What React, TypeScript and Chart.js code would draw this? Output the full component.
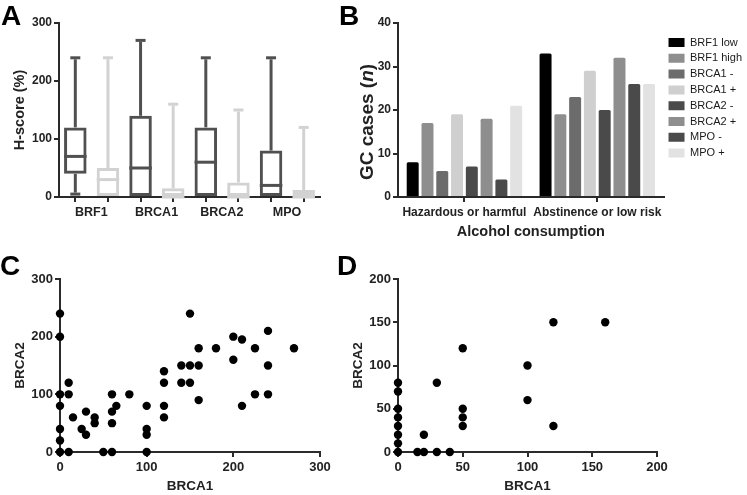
import React, { useEffect, useRef } from 'react';
import { Chart, registerables } from 'chart.js';

Chart.register(...registerables);

const FONT = '"Liberation Sans", Arial, Helvetica, sans-serif';
Chart.defaults.font.family = FONT;
Chart.defaults.color = '#222';

// ---------- Panel A: box plots ----------
const markers = ['BRF1', 'BRCA1', 'BRCA2', 'MPO'];
const boxLabels = ['BRF1', 'BRF1', 'BRCA1', 'BRCA1', 'BRCA2', 'BRCA2', 'MPO', 'MPO'];
const boxMin = [5, 0, 0, 0, 0, 0, 0, 0];
const boxQ1 = [40, 0, 0, 0, 0, 0, 0, 0];
const boxMedian = [70, 30, 50, 0, 60, 0, 20, 0];
const boxQ3 = [120, 50, 140, 15, 120, 25, 80, 12];
const boxMax = [240, 240, 270, 160, 240, 150, 240, 120];
const hScoreTicks = [0, 100, 200, 300];

// ---------- Panel B: grouped bars ----------
const alcoholCategories = ['Hazardous or harmful', 'Abstinence or low risk'];
const seriesNames = ['BRF1 low', 'BRF1 high', 'BRCA1 -', 'BRCA1 +', 'BRCA2 -', 'BRCA2 +', 'MPO -', 'MPO +'];
const brf1Low = [8, 33];
const brf1High = [17, 19];
const brca1Neg = [6, 23];
const brca1Pos = [19, 29];
const brca2Neg = [7, 20];
const brca2Pos = [18, 32];
const mpoNeg = [4, 26];
const mpoPos = [21, 26];
const seriesValues = [brf1Low, brf1High, brca1Neg, brca1Pos, brca2Neg, brca2Pos, mpoNeg, mpoPos];

// ---------- Panel C: scatter ----------
const cBrca1 = [0, 0, 0, 0, 0, 0, 0, 10, 10, 10, 15, 25, 30, 30, 40, 40, 50, 60, 60, 60, 60, 65, 80, 100, 100, 100, 100, 120, 120, 120, 120, 140, 140, 150, 150, 150, 160, 160, 160, 180, 200, 200, 210, 210, 225, 225, 240, 240, 240, 270];
const cBrca2 = [240, 200, 100, 80, 40, 20, 0, 120, 100, 0, 60, 40, 70, 30, 60, 50, 0, 100, 70, 50, 0, 80, 100, 80, 40, 30, 0, 140, 120, 80, 60, 150, 120, 240, 150, 120, 180, 150, 90, 180, 200, 160, 195, 80, 180, 100, 210, 150, 100, 180];

// ---------- Panel D: scatter ----------
const dBrca1 = [0, 0, 0, 0, 0, 0, 0, 0, 15, 20, 20, 30, 30, 40, 50, 50, 50, 50, 100, 100, 120, 120, 160];
const dBrca2 = [80, 70, 50, 40, 30, 20, 10, 0, 0, 20, 0, 80, 0, 0, 120, 50, 40, 30, 100, 60, 150, 30, 150];

// ---------- styles ----------
const DARK = '#505050';
const LIGHT = '#d2d2d2';
const boxColors = [DARK, LIGHT, DARK, LIGHT, DARK, LIGHT, DARK, LIGHT];
const seriesColors = ['#000000', '#8e8e8e', '#6c6c6c', '#cfcfcf', '#4a4a4a', '#8e8e8e', '#4a4a4a', '#e2e2e2'];
const AXIS = '#2a2a2a';

const axisGrid = { display: true, drawOnChartArea: false, drawTicks: true, tickLength: 5, lineWidth: 2, color: AXIS, offset: false };
const axisBorder = { display: true, width: 2, color: AXIS };

const boxPlugin = {
  id: 'boxWhiskers',
  afterDatasetsDraw(chart: any) {
    const { ctx } = chart;
    const x = chart.scales.x;
    const y = chart.scales.y;
    const meta = chart.getDatasetMeta(0);
    ctx.save();
    ctx.lineWidth = 3;
    ctx.lineCap = 'butt';
    const seg = (x1: number, y1: number, x2: number, y2: number) => {
      ctx.beginPath();
      ctx.moveTo(x1, y1);
      ctx.lineTo(x2, y2);
      ctx.stroke();
    };
    boxMedian.forEach((med, i) => {
      const bar = meta.data[i];
      const cx = x.getPixelForValue(i);
      const half = bar.width / 2;
      const cap = 5;
      ctx.strokeStyle = boxColors[i];
      const yQ3 = y.getPixelForValue(boxQ3[i]);
      const yMax = y.getPixelForValue(boxMax[i]);
      seg(cx, yQ3, cx, yMax + 1.5);
      seg(cx - cap, yMax, cx + cap, yMax);
      if (boxMin[i] < boxQ1[i]) {
        const yQ1 = y.getPixelForValue(boxQ1[i]);
        const yMin = y.getPixelForValue(boxMin[i]);
        seg(cx, yQ1, cx, yMin - 1.5);
        seg(cx - cap, yMin, cx + cap, yMin);
      }
      const yMed = y.getPixelForValue(med);
      seg(cx - half, yMed, cx + half, yMed);
    });
    ctx.restore();
  },
};

const gcTitlePlugin = {
  id: 'gcTitle',
  afterDraw(chart: any) {
    const { ctx } = chart;
    const parts = [
      { t: 'GC cases (', f: `bold 19px ${FONT}` },
      { t: 'n', f: `italic bold 19px ${FONT}` },
      { t: ')', f: `bold 19px ${FONT}` },
    ];
    let total = 0;
    parts.forEach((p) => {
      ctx.font = p.f;
      total += ctx.measureText(p.t).width;
    });
    ctx.save();
    ctx.translate(28, 122);
    ctx.rotate(-Math.PI / 2);
    ctx.fillStyle = '#222';
    ctx.textBaseline = 'middle';
    ctx.textAlign = 'left';
    let cur = -total / 2;
    parts.forEach((p) => {
      ctx.font = p.f;
      ctx.fillText(p.t, cur, 0);
      cur += ctx.measureText(p.t).width;
    });
    ctx.restore();
  },
};

const configA = () => ({
  type: 'bar',
  data: {
    labels: boxLabels,
    datasets: [
      {
        label: 'H-score',
        data: boxQ1.map((q, i) => [q, boxQ3[i]]),
        backgroundColor: 'rgba(255,255,255,0)',
        borderColor: boxColors,
        borderWidth: 3,
        borderSkipped: false,
        barPercentage: 0.69,
        categoryPercentage: 1,
      },
    ],
  },
  options: {
    responsive: false,
    animation: false,
    events: [],
    layout: { padding: { top: 23, right: 15, bottom: 0, left: 0 } },
    plugins: { legend: { display: false }, tooltip: { enabled: false } },
    scales: {
      x: {
        grid: axisGrid,
        border: axisBorder,
        ticks: {
          autoSkip: false,
          maxRotation: 0,
          labelOffset: 16,
          padding: 3,
          font: { size: 12.5, weight: 'bold' },
          callback: (_v: any, i: number) => (i % 2 === 0 ? markers[i / 2] : ''),
        },
        afterFit: (s: any) => { s.height = 48; },
      },
      y: {
        min: 0,
        max: 300,
        afterBuildTicks: (s: any) => { s.ticks = hScoreTicks.map((v) => ({ value: v })); },
        grid: axisGrid,
        border: axisBorder,
        ticks: { padding: 2, font: { size: 12, weight: 'bold' } },
        title: { display: true, text: 'H-score (%)', font: { size: 14.5, weight: 'bold' }, padding: { top: 11, bottom: 0 } },
        afterFit: (s: any) => { s.width = 59; },
      },
    },
  },
  plugins: [boxPlugin],
});

const configB = () => ({
  type: 'bar',
  data: {
    labels: alcoholCategories,
    datasets: seriesNames.map((name, i) => ({
      label: name,
      data: seriesValues[i],
      backgroundColor: seriesColors[i],
      borderWidth: 0,
      borderRadius: 1.5,
      categoryPercentage: 0.89,
      barPercentage: 0.81,
    })),
  },
  options: {
    responsive: false,
    animation: false,
    events: [],
    layout: { padding: { top: 23, right: 0, bottom: 0, left: 0 } },
    plugins: {
      tooltip: { enabled: false },
      legend: {
        position: 'right',
        align: 'start',
        title: { display: true, text: '', font: { size: 1 }, padding: { top: 8, bottom: 0 } },
        labels: { boxWidth: 16, boxHeight: 9, padding: 4.8, color: '#1a1a1a', font: { size: 11 } },
      },
    },
    scales: {
      x: {
        grid: axisGrid,
        border: axisBorder,
        ticks: { autoSkip: false, maxRotation: 0, padding: 3, font: { size: 12, weight: 'bold' } },
        title: { display: true, text: 'Alcohol consumption', font: { size: 14.5, weight: 'bold' }, padding: { top: 0, bottom: 4 } },
        afterFit: (s: any) => { s.height = 48; },
      },
      y: {
        min: 0,
        max: 40,
        grid: axisGrid,
        border: axisBorder,
        ticks: { stepSize: 10, padding: 2, font: { size: 12, weight: 'bold' } },
        afterFit: (s: any) => { s.width = 58; },
      },
    },
  },
  plugins: [gcTitlePlugin],
});

const scatterConfig = (xs: number[], ys: number[], max: number, step: number, yTitlePad: number, yWidth: number, padRight: number) => ({
  type: 'scatter',
  data: {
    datasets: [
      {
        label: 'BRCA1 vs BRCA2',
        data: xs.map((v, i) => ({ x: v, y: ys[i] })),
        backgroundColor: '#000',
        borderWidth: 0,
        pointRadius: 4.2,
        clip: false,
      },
    ],
  },
  options: {
    responsive: false,
    animation: false,
    events: [],
    layout: { padding: { top: 39, right: padRight, bottom: 0, left: 0 } },
    plugins: { legend: { display: false }, tooltip: { enabled: false } },
    scales: {
      x: {
        type: 'linear',
        min: 0,
        max,
        grid: axisGrid,
        border: axisBorder,
        ticks: { stepSize: step, padding: 3, font: { size: 13, weight: 'bold' } },
        title: { display: true, text: 'BRCA1', font: { size: 13.5, weight: 'bold' }, padding: { top: 0, bottom: 1 } },
        afterFit: (s: any) => { s.height = 43; },
      },
      y: {
        type: 'linear',
        min: 0,
        max,
        grid: axisGrid,
        border: axisBorder,
        ticks: { stepSize: step, padding: 2, font: { size: 13, weight: 'bold' } },
        title: { display: true, text: 'BRCA2', font: { size: 13.5, weight: 'bold' }, padding: { top: yTitlePad, bottom: 0 } },
        afterFit: (s: any) => { s.width = yWidth; },
      },
    },
  },
});

type PanelProps = { left: number; top: number; width: number; height: number; config: () => any };

function Panel({ left, top, width, height, config }: PanelProps) {
  const ref = useRef<HTMLCanvasElement>(null);
  useEffect(() => {
    const chart = new Chart(ref.current as HTMLCanvasElement, config());
    return () => chart.destroy();
  }, []);
  return (
    <div style={{ position: 'absolute', left, top, width, height }}>
      <canvas ref={ref} width={width} height={height} style={{ width, height, display: 'block' }} />
    </div>
  );
}

const letterStyle = (left: number, top: number): React.CSSProperties => ({
  position: 'absolute',
  left,
  top,
  font: `bold 28px ${FONT}`,
  lineHeight: 1,
  color: '#000',
});

export default function App() {
  return (
    <div style={{ position: 'fixed', left: 0, top: 0, width: 747, height: 495, background: '#fff', overflow: 'hidden' }}>
      <Panel left={0} top={0} width={335} height={245} config={configA} />
      <Panel left={340} top={0} width={412} height={245} config={configB} />
      <Panel left={0} top={240} width={340} height={255} config={() => scatterConfig(cBrca1, cBrca2, 300, 100, 12, 60, 20)} />
      <Panel left={340} top={240} width={407} height={255} config={() => scatterConfig(dBrca1, dBrca2, 200, 50, 10, 58, 90)} />
      <div style={letterStyle(1, 2)}>A</div>
      <div style={letterStyle(339, 2)}>B</div>
      <div style={letterStyle(0, 252)}>C</div>
      <div style={letterStyle(337, 252)}>D</div>
    </div>
  );
}
